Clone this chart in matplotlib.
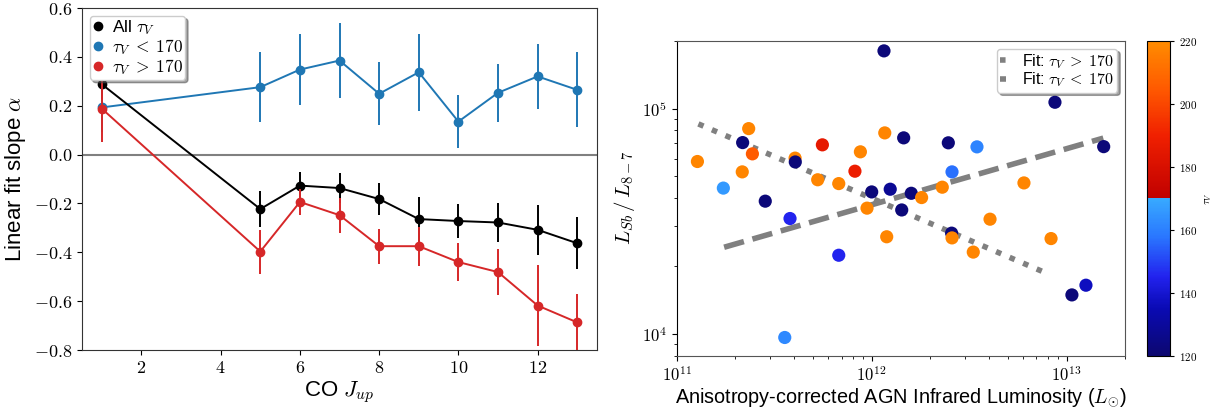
import numpy as np
import matplotlib
matplotlib.use("Agg")
import matplotlib.pyplot as plt
from matplotlib.lines import Line2D
from matplotlib.colors import LinearSegmentedColormap
from matplotlib.ticker import FuncFormatter, FixedLocator

plt.rcParams['font.family'] = ['Liberation Sans', 'DejaVu Sans']
plt.rcParams['mathtext.fontset'] = 'cm'

# ---------------- left panel data ----------------
j_up = [1, 5, 6, 7, 8, 9, 10, 11, 12, 13]
alpha_all = [0.288, -0.223, -0.127, -0.137, -0.182, -0.264, -0.272, -0.278, -0.308, -0.363]
err_all = [0.06, 0.073, 0.055, 0.062, 0.066, 0.092, 0.070, 0.080, 0.102, 0.106]
alpha_low = [0.193, 0.276, 0.348, 0.385, 0.249, 0.337, 0.135, 0.253, 0.320, 0.265]
err_low = [0.10, 0.144, 0.146, 0.155, 0.128, 0.157, 0.107, 0.118, 0.132, 0.154]
alpha_high = [0.188, -0.397, -0.194, -0.248, -0.375, -0.375, -0.440, -0.481, -0.618, -0.687]
err_high = [0.135, 0.090, 0.055, 0.072, 0.071, 0.080, 0.078, 0.093, 0.165, 0.117]
left_yticks = [-0.8, -0.6, -0.4, -0.2, 0.0, 0.2, 0.4, 0.6]
left_xticks = [2, 4, 6, 8, 10, 12]

# ---------------- right panel data ----------------
log_lum_agn = [12.063, 12.940, 11.106, 11.369, 11.338, 11.388, 11.336, 11.239, 11.454, 11.607,
               11.608, 11.747, 11.942, 11.914, 11.723, 11.831, 11.581, 11.831, 11.554, 12.067,
               12.164, 12.393, 12.540, 12.412, 12.000, 12.095, 12.203, 12.256, 12.362, 11.976,
               12.154, 12.077, 12.410, 12.412, 12.521, 12.607, 12.781, 12.920, 13.190, 13.027,
               13.099]
log_ratio = [5.256, 5.028, 4.765, 4.911, 4.849, 4.799, 4.719, 4.647, 4.589, 4.780,
             4.763, 4.839, 4.808, 4.722, 4.684, 4.667, 4.512, 4.349, 3.984, 4.892,
             4.870, 4.848, 4.830, 4.719, 4.630, 4.642, 4.624, 4.605, 4.651, 4.558,
             4.550, 4.431, 4.447, 4.426, 4.363, 4.509, 4.670, 4.423, 4.831, 4.173,
             4.216]
tau_v = [122, 122, 218, 218, 122, 205, 218, 166, 122, 218,
         122, 186, 218, 188, 218, 218, 145, 145, 162, 218,
         122, 122, 161, 157, 122, 128, 122, 218, 218, 218,
         122, 218, 122, 218, 218, 218, 218, 218, 122, 122,
         137]
# fits in log-log space: (slope, intercept at logL=12, logL range)
fit_high = (-0.371, 4.602, 11.111, 12.897)
fit_low = (0.249, 4.573, 11.243, 13.188)
cbar_ticks = [120, 140, 160, 180, 200, 220]

fig = plt.figure(figsize=(12.15, 4.11), dpi=100)

# ================= left panel =================
ax1 = fig.add_axes([0.0675, 0.1484, 0.4239, 0.8321])
ax1.axhline(0.0, color='gray', lw=1.5, zorder=1)
ax1.errorbar(j_up, alpha_all, yerr=err_all, color='black', marker='o', ms=6, lw=1.4, zorder=3)
ax1.errorbar(j_up, alpha_low, yerr=err_low, color='#1f77b4', marker='o', ms=6, lw=1.4, zorder=2)
ax1.errorbar(j_up, alpha_high, yerr=err_high, color='#d62728', marker='o', ms=6, lw=1.4, zorder=4)
ax1.set_xlim(0.5, 13.5)
ax1.set_ylim(-0.8, 0.6)
ax1.xaxis.set_major_locator(FixedLocator(left_xticks))
ax1.yaxis.set_major_locator(FixedLocator(left_yticks))
ax1.xaxis.set_major_formatter(FuncFormatter(lambda v, p: r'$%d$' % v))
ax1.yaxis.set_major_formatter(FuncFormatter(lambda v, p: r'$%.1f$' % v))
ax1.tick_params(labelsize=13)
ax1.set_xlabel(r'CO $J_{up}$', fontsize=16, labelpad=2)
ax1.set_ylabel(r'Linear fit slope $\alpha$', fontsize=16)
for s in ax1.spines.values():
    s.set_color('#333333')
handles = [Line2D([], [], marker='o', ls='none', color=c, ms=6) for c in ['black', '#1f77b4', '#d62728']]
leg1 = ax1.legend(handles, [r'All $\tau_V$', r'$\tau_V\;<\;170$', r'$\tau_V\;>\;170$'], loc='upper left',
                  fontsize=12.5, shadow=True, fancybox=True, framealpha=1, handlelength=0.6,
                  handletextpad=0.5, labelspacing=0.0, borderpad=0.15, borderaxespad=0.45)
leg1.set_zorder(10)

# ================= right panel =================
cmap = LinearSegmentedColormap.from_list('tau', [
    (0.00, '#0c0870'), (0.15, '#0a0ab4'), (0.25, '#2222ee'), (0.38, '#2a78ff'),
    (0.4999, '#38aaff'), (0.5, '#c00000'), (0.70, '#f02000'), (0.85, '#ff5a00'),
    (1.00, '#ff8c00')])

ax2 = fig.add_axes([0.557, 0.1345, 0.3692, 0.7664])
ax2.set_xscale('log')
ax2.set_yscale('log')
sc = ax2.scatter(10 ** np.array(log_lum_agn), 10 ** np.array(log_ratio), c=tau_v, cmap=cmap,
                 vmin=120, vmax=220, s=90, edgecolors='none', zorder=3)
for fit, ls, lab in [(fit_high, ':', r'Fit: $\tau_V\;>\;170$'), (fit_low, '--', r'Fit: $\tau_V\;<\;170$')]:
    m, b, x0, x1 = fit
    lx = np.linspace(x0, x1, 50)
    ax2.plot(10 ** lx, 10 ** (b + m * (lx - 12)), ls=ls, color='gray', lw=4, label=lab, zorder=2)
ax2.set_xlim(1e11, 2e13)
ax2.set_ylim(8e3, 2e5)
logfmt = FuncFormatter(lambda v, p: r'$10^{%d}$' % round(np.log10(v)))
ax2.xaxis.set_major_formatter(logfmt)
ax2.yaxis.set_major_formatter(logfmt)
ax2.xaxis.set_minor_formatter(FuncFormatter(lambda v, p: ''))
ax2.yaxis.set_minor_formatter(FuncFormatter(lambda v, p: ''))
ax2.tick_params(labelsize=12)
ax2.set_xlabel(r'Anisotropy-corrected AGN Infrared Luminosity ($L_{\odot}$)', fontsize=14.3, labelpad=2)
ax2.set_ylabel(r'$L_{Sb}\,/\,L_{8-7}$', fontsize=15)
for name, s in ax2.spines.items():
    s.set_color('black' if name == 'left' else '#555555')
ax2.legend(loc='upper right', fontsize=11.5, shadow=True, fancybox=True, framealpha=1,
           handlelength=0.35, handletextpad=1.0, labelspacing=0.0, borderpad=0.2)

cax = fig.add_axes([0.9443, 0.1345, 0.0187, 0.7664])
cb = fig.colorbar(sc, cax=cax, ticks=cbar_ticks)
cb.ax.yaxis.set_major_formatter(FuncFormatter(lambda v, p: r'$%d$' % v))
cb.ax.tick_params(labelsize=8, length=3)
cb.set_label(r'$\tau_V$', fontsize=8)

fig.savefig('out.png', dpi=100)
